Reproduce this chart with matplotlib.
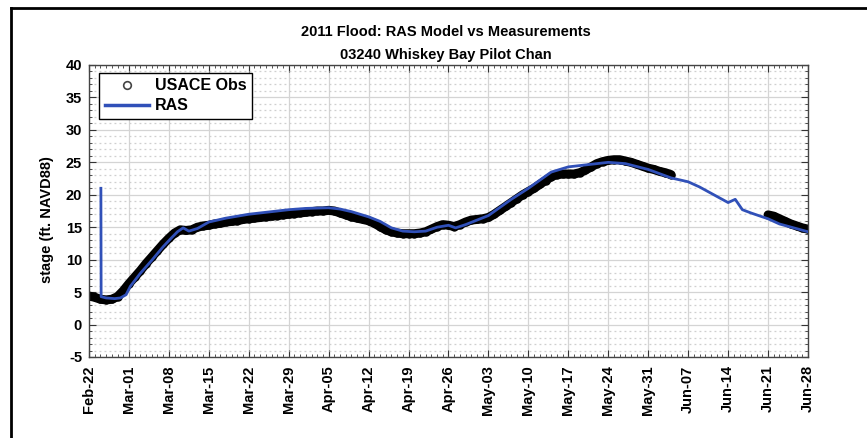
import numpy as np
import pandas as pd
import matplotlib
matplotlib.use("Agg")
import matplotlib.pyplot as plt
import matplotlib.dates as mdates
from matplotlib.ticker import MultipleLocator
from matplotlib.lines import Line2D

# ---------------- data ----------------
title_lines = ["2011 Flood: RAS Model vs Measurements", "03240 Whiskey Bay Pilot Chan"]
ylabel = "stage (ft. NAVD88)"

obs_start = "2011-02-22"
obs_end = "2011-06-28"
nan = np.nan
obs_stage = [
    4.4, 4.2, 3.9, 3.8, 3.9, 4.3, 5.2,                 # Feb 22-28
    6.3, 7.3, 8.3, 9.4, 10.4, 11.4, 12.4, 13.3, 14.1, 14.6,  # Mar 1-10
    14.5, 14.6, 15.0, 15.2, 15.3, 15.5, 15.6, 15.8, 15.9, 16.0,  # Mar 11-20
    16.2, 16.3, 16.4, 16.5, 16.6, 16.7, 16.8, 16.9, 17.0, 17.1, 17.2,  # Mar 21-31
    17.3, 17.4, 17.5, 17.5, 17.6, 17.5, 17.2, 16.9, 16.6, 16.4,  # Apr 1-10
    16.2, 16.0, 15.6, 15.1, 14.6, 14.3, 14.1, 14.0, 14.0, 14.0,  # Apr 11-20
    14.1, 14.3, 14.7, 15.1, 15.4, 15.3, 15.1, 15.4, 15.8, 16.1,  # Apr 21-30
    16.2, 16.3, 16.5, 17.0, 17.6, 18.2, 18.8, 19.4, 20.0, 20.5,  # May 1-10
    21.0, 21.6, 22.2, 22.8, 23.1, 23.2, 23.2, 23.2, 23.4, 23.8,  # May 11-20
    24.3, 24.8, 25.1, 25.3, 25.4, 25.4, 25.2, 25.0, 24.7, 24.4, 24.1,  # May 21-31
    23.9, 23.6, 23.4, 23.1,                            # Jun 1-4
    nan, nan, nan, nan, nan, nan, nan, nan, nan, nan,  # Jun 5-14
    nan, nan, nan, nan, nan, nan,                      # Jun 15-20
    16.9, 16.7, 16.3, 15.9, 15.5, 15.2, 14.9, 14.7,    # Jun 21-28
]

ras_time = [
    "2011-02-24 02:00", "2011-02-24 03:00", "2011-02-25 00:00", "2011-02-26 12:00",
    "2011-02-27 12:00", "2011-02-28 12:00", "2011-03-01 06:00", "2011-03-03 00:00",
    "2011-03-05 00:00", "2011-03-07 00:00", "2011-03-08 12:00", "2011-03-09 12:00",
    "2011-03-10 12:00", "2011-03-11 12:00", "2011-03-13 00:00", "2011-03-15 00:00",
    "2011-03-18 00:00", "2011-03-22 00:00", "2011-03-25 00:00", "2011-03-29 00:00",
    "2011-04-01 00:00", "2011-04-05 00:00", "2011-04-07 00:00", "2011-04-09 00:00",
    "2011-04-12 00:00", "2011-04-14 00:00", "2011-04-16 00:00", "2011-04-18 00:00",
    "2011-04-20 00:00", "2011-04-22 00:00", "2011-04-24 00:00", "2011-04-26 00:00",
    "2011-04-27 06:00", "2011-04-29 00:00", "2011-05-01 00:00", "2011-05-03 00:00",
    "2011-05-07 00:00", "2011-05-10 00:00", "2011-05-14 00:00", "2011-05-17 00:00",
    "2011-05-20 00:00", "2011-05-24 00:00", "2011-05-27 00:00", "2011-05-31 00:00",
    "2011-06-04 00:00", "2011-06-07 00:00", "2011-06-09 00:00", "2011-06-14 00:00",
    "2011-06-15 06:00", "2011-06-16 12:00", "2011-06-18 00:00", "2011-06-21 00:00",
    "2011-06-23 00:00", "2011-06-28 00:00",
]
ras_stage = [
    21.0, 4.3, 4.1, 4.0,
    4.1, 4.6, 5.9, 7.9,
    9.9, 12.0, 13.4, 14.3,
    14.9, 14.4, 14.8, 15.8,
    16.4, 17.0, 17.3, 17.7,
    17.9, 18.0, 17.8, 17.4,
    16.6, 15.9, 14.9, 14.4,
    14.3, 14.4, 15.0, 15.3,
    14.9, 15.4, 16.1, 16.8,
    19.3, 21.0, 23.5, 24.3,
    24.6, 25.0, 24.8, 23.9,
    22.6, 22.0, 21.2, 18.8,
    19.3, 17.7, 17.2, 16.3,
    15.5, 14.3,
]

xmin, xmax = "2011-02-22", "2011-06-28"
ymin, ymax = -5, 40

# ---------------- figure ----------------
plt.rcParams['font.family'] = ['Liberation Sans', 'DejaVu Sans']
plt.rcParams['axes.unicode_minus'] = False
fig = plt.figure(figsize=(8.67, 4.38), dpi=100)
ax = fig.add_axes([89/867, 1-357/438, (808-89)/867, (357-65)/438])

obs_dates = pd.date_range(obs_start, obs_end, freq="D")
obs_vals = np.array(obs_stage, dtype=float)
assert len(obs_dates) == len(obs_vals)
ras_dates = pd.to_datetime(ras_time)

# observation band (dense circles)
ax.plot(obs_dates, obs_vals, color='black', lw=6.5, solid_capstyle='round', zorder=2)
ax.plot(obs_dates, obs_vals, 'o', mfc='black', mec='black', ms=5, zorder=2)
ax.plot(ras_dates, ras_stage, color='#3050b8', lw=2, zorder=3)

ax.set_xlim(pd.Timestamp(xmin), pd.Timestamp(xmax))
ax.set_ylim(ymin, ymax)

ticks = pd.date_range(xmin, xmax, freq="7D")
ax.set_xticks(ticks)
ax.xaxis.set_major_formatter(mdates.DateFormatter("%b-%d"))
ax.xaxis.set_minor_locator(mdates.DayLocator())
ax.yaxis.set_major_locator(MultipleLocator(5))
ax.yaxis.set_minor_locator(MultipleLocator(1))

ax.grid(which='major', color='#d4d4d4', lw=0.9, ls='-')
ax.grid(which='minor', axis='y', color='#cfcfcf', lw=0.9, ls=(0, (1.5, 2.5)))
ax.set_axisbelow(True)

ax.tick_params(which='both', direction='in', top=True, right=True, color='#333333')
ax.tick_params(which='major', length=5, width=0.8, labelsize=10.5)
ax.tick_params(which='minor', length=2.5, width=0.6)
for lab in ax.get_xticklabels():
    lab.set_rotation(90)
    lab.set_fontweight('bold')
for lab in ax.get_yticklabels():
    lab.set_fontweight('bold')
ax.tick_params(axis='x', pad=6)
ax.tick_params(axis='y', pad=5)
for s in ax.spines.values():
    s.set_color('#444444')
    s.set_linewidth(1.0)

ax.set_ylabel(ylabel, fontsize=10.5, fontweight='bold', labelpad=6)
ax.yaxis.set_label_coords(-0.048, 0.47)
fig.text(446/867, 1-32/438, title_lines[0], ha='center', va='center', fontsize=10.5, fontweight='bold')
fig.text(446/867, 1-55/438, title_lines[1], ha='center', va='center', fontsize=10.5, fontweight='bold')

handles = [
    Line2D([], [], marker='o', ls='none', mfc='none', mec='#444444', ms=5.5, mew=1.2),
    Line2D([], [], color='#3050b8', lw=2.5),
]
leg = ax.legend(handles, ["USACE Obs", "RAS"], loc='upper left', bbox_to_anchor=(0.014, 0.973),
                prop={'weight': 'bold', 'size': 11.5}, frameon=True, fancybox=False,
                framealpha=1, edgecolor='black', borderpad=0.35, handlelength=2.8,
                labelspacing=0.3, handletextpad=0.35, borderaxespad=0)
leg.get_frame().set_linewidth(1.0)

# screenshot frame lines (top and left)
fig.add_artist(Line2D([11/867, 1], [1-8/438, 1-8/438], color='black', lw=2, transform=fig.transFigure))
fig.add_artist(Line2D([11/867, 11/867], [0, 1-8/438], color='black', lw=2, transform=fig.transFigure))

fig.savefig("out.png", dpi=100, facecolor='white')
